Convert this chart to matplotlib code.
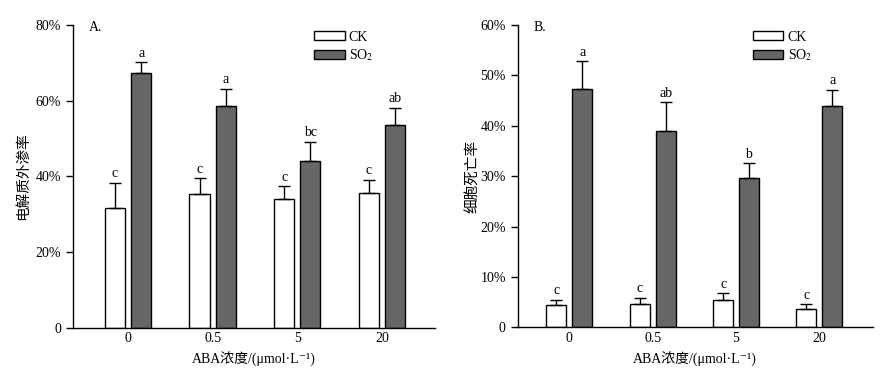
import numpy as np
import matplotlib
matplotlib.use('Agg')
import matplotlib.pyplot as plt
from matplotlib.patches import Patch

plt.rcParams['font.family'] = ['Liberation Serif', 'Noto Sans CJK SC', 'DejaVu Sans']
plt.rcParams['mathtext.fontset'] = 'stix'

# data (percent)
conc_labels = ['0', '0.5', '5', '20']

leak_ck = [31.8, 35.3, 34.0, 35.7]
leak_ck_err = [6.6, 4.3, 3.5, 3.4]
leak_so2 = [67.3, 58.5, 44.1, 53.5]
leak_so2_err = [2.9, 4.7, 5.1, 4.7]
leak_ck_letters = ['c', 'c', 'c', 'c']
leak_so2_letters = ['a', 'a', 'bc', 'ab']

death_ck = [4.4, 4.7, 5.4, 3.6]
death_ck_err = [1.1, 1.2, 1.4, 1.0]
death_so2 = [47.3, 39.0, 29.7, 44.0]
death_so2_err = [5.5, 5.7, 2.9, 3.2]
death_ck_letters = ['c', 'c', 'c', 'c']
death_so2_letters = ['a', 'ab', 'b', 'a']

SO2_COLOR = '#666666'


def draw_panel(ax, ck, ck_err, so2, so2_err, ck_let, so2_let, ymax, step, ylabel, tag, xlim, ypad):
    x = np.arange(len(conc_labels))
    w = 0.24
    off = 0.155
    ax.bar(x - off, ck, w, color='white', edgecolor='black', linewidth=1.0, zorder=2)
    ax.bar(x + off, so2, w, color=SO2_COLOR, edgecolor='black', linewidth=1.0, zorder=2)
    ax.errorbar(x - off, ck, yerr=[np.zeros(len(ck)), ck_err], fmt='none',
                ecolor='black', elinewidth=1.0, capsize=4, capthick=1.0, zorder=3)
    ax.errorbar(x + off, so2, yerr=[np.zeros(len(so2)), so2_err], fmt='none',
                ecolor='black', elinewidth=1.0, capsize=4, capthick=1.0, zorder=3)
    pad = ymax * 0.008
    for i in range(len(x)):
        ax.text(x[i] - off, ck[i] + ck_err[i] + pad, ck_let[i], ha='center', va='bottom', fontsize=10)
        ax.text(x[i] + off, so2[i] + so2_err[i] + pad, so2_let[i], ha='center', va='bottom', fontsize=10)

    ax.set_xlim(*xlim)
    ax.set_ylim(0, ymax)
    ticks = np.arange(0, ymax + 0.01, step)
    ax.set_yticks(ticks)
    ax.set_yticklabels(['0'] + [f'{int(t)}%' for t in ticks[1:]], fontsize=10)
    ax.set_xticks(x)
    ax.set_xticklabels(conc_labels, fontsize=10)
    ax.tick_params(axis='x', length=0, pad=3)
    ax.tick_params(axis='y', length=5, width=1, direction='out')
    for s in ['top', 'right']:
        ax.spines[s].set_visible(False)
    for s in ['left', 'bottom']:
        ax.spines[s].set_linewidth(1.0)
    ax.set_xlabel('ABA浓度/(μmol·L⁻¹)', fontsize=10, labelpad=5)
    ax.set_ylabel(ylabel, fontsize=10.5, labelpad=ypad)
    ax.text(0.045, 1.012, tag, transform=ax.transAxes, ha='left', va='top', fontsize=10)

    handles = [Patch(facecolor='white', edgecolor='black', linewidth=1.0, label='CK'),
               Patch(facecolor=SO2_COLOR, edgecolor='black', linewidth=1.0, label='SO$_2$')]
    ax.legend(handles=handles, loc='upper right', bbox_to_anchor=(0.845, 1.0), frameon=False,
              fontsize=10, handlelength=2.2, handleheight=0.6, handletextpad=0.3,
              labelspacing=0.25, borderaxespad=0)


fig = plt.figure(figsize=(8.81, 3.72), dpi=100)
ax1 = fig.add_axes([0.0829, 0.1183, 0.411, 0.8145])
ax2 = fig.add_axes([0.5876, 0.1200, 0.403, 0.8126])

draw_panel(ax1, leak_ck, leak_ck_err, leak_so2, leak_so2_err, leak_ck_letters, leak_so2_letters,
           80, 20, '电解质外渗率', 'A.', (-0.65, 3.63), 4)
draw_panel(ax2, death_ck, death_ck_err, death_so2, death_so2_err, death_ck_letters, death_so2_letters,
           60, 10, '细胞死亡率', 'B.', (-0.62, 3.64), 0)

fig.savefig('out.png', dpi=100)
